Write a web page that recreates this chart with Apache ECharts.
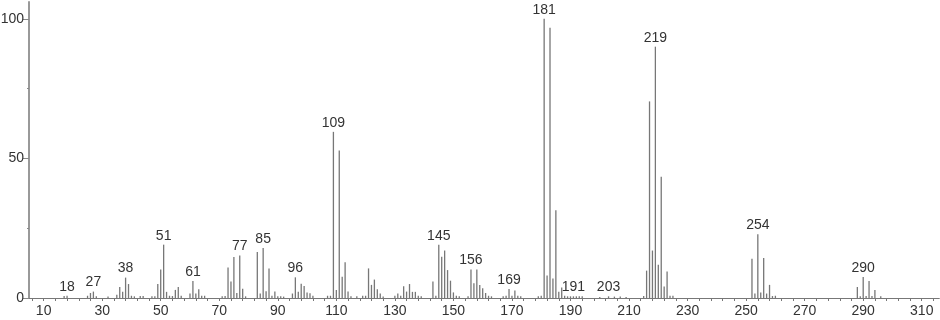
<!DOCTYPE html>
<html><head><meta charset="utf-8">
<script src="https://cdn.jsdelivr.net/npm/echarts@6/dist/echarts.min.js"></script>
<style>html,body{margin:0;padding:0;background:#fff}#c{width:940px;height:320px}</style>
</head><body><div id="c"></div>
<script>
// m/z values (x) and relative intensity (%)
const mz = [17,18,25,26,27,28,32,35,36,37,38,39,40,41,43,44,47,48,49,50,51,52,53,54,55,56,57,60,61,62,63,64,65,
  71,72,73,74,75,76,77,78,79,83,84,85,86,87,88,89,90,91,92,95,96,97,98,99,100,101,102,
  107,108,109,110,111,112,113,114,115,117,119,120,121,122,123,124,125,126,130,131,132,133,134,135,136,137,138,139,
  143,144,145,146,147,148,149,150,151,152,155,156,157,158,159,160,161,162,163,167,168,169,170,171,172,173,
  179,180,181,182,183,184,185,186,187,188,189,190,191,192,193,194,200,203,205,207,209,
  215,216,217,218,219,220,221,222,223,224,225,252,253,254,255,256,257,258,259,260,288,289,290,291,292,293,294,296];
const intensity = [0.7,0.8,0.8,1.8,2.3,0.6,0.5,1.2,3.9,2.2,7.3,5.0,0.8,0.6,0.7,0.7,0.6,0.6,5.0,10.2,19.1,2.2,0.8,0.7,2.9,3.9,0.8,1.6,6.1,1.6,3.1,0.8,0.8,
  0.6,0.7,10.9,5.9,14.7,1.8,15.2,3.3,0.6,16.5,1.6,17.9,2.4,10.6,0.8,2.3,0.6,0.6,0.5,1.6,7.4,2.2,5.1,4.3,2.0,1.7,0.8,
  0.8,0.8,59.5,2.9,52.8,7.6,12.8,2.3,0.6,0.6,0.8,0.8,10.6,4.7,6.6,3.1,1.6,0.5,0.8,1.6,0.8,4.2,2.3,5.0,2.2,2.2,0.8,0.6,
  5.9,0.8,19.1,14.8,17.0,10.0,6.2,2.0,0.8,0.6,0.6,10.2,5.3,10.2,4.7,3.5,1.8,0.8,0.6,0.6,0.8,3.2,0.8,2.7,0.8,0.6,
  0.6,0.8,100,8.1,96.8,7.0,31.4,2.2,3.8,0.8,0.6,0.6,0.6,0.6,0.6,0.6,0.4,0.6,0.5,0.5,0.4,
  0.7,9.8,70.4,17.0,90.0,11.9,43.4,4.1,9.5,0.8,0.8,14.1,1.6,22.8,2.0,14.3,1.6,4.7,0.7,0.8,3.9,0.6,7.5,0.7,6.1,0.7,2.9,0.6];
const labeledPeaks = [18,27,38,51,61,77,85,96,109,145,156,169,181,191,203,219,254,290];
const xLabelValues = [10,30,50,70,90,110,130,150,170,190,210,230,250,270,290,310];
const yLabelValues = [0,50,100];
const yMinorTickValues = [25,75];
const xTickValues = [];
for (let v = 6; v <= 314; v += 4) xTickValues.push(v);

const font = "'Liberation Sans',Arial,sans-serif";
const chart = echarts.init(document.getElementById('c'), null, {renderer:'canvas'});
chart.setOption({
  animation: false,
  grid: {left: 29, right: 0.7, top: 2, bottom: 22, containLabel: false, outerBoundsMode: 'none'},
  xAxis: [{
    type: 'value', min: 5, max: 316,
    axisLine: {show: true, lineStyle: {color: '#777', width: 1}},
    axisTick: {show: true, length: 3, customValues: xTickValues, lineStyle: {color: '#777'}},
    axisLabel: {customValues: xLabelValues, margin: 6, fontSize: 14, color: '#333', fontFamily: font},
    splitLine: {show: false}
  }],
  yAxis: [{
    type: 'value', min: 0, max: 106, position: 'left',
    axisLine: {show: true, lineStyle: {color: '#999', width: 2}},
    axisTick: {show: true, length: 6, customValues: yLabelValues, lineStyle: {color: '#888'}},
    axisLabel: {customValues: yLabelValues, margin: 5, fontSize: 14, color: '#333', fontFamily: font},
    splitLine: {show: false}
  }, {
    type: 'value', min: 0, max: 106, position: 'left', offset: 0,
    axisLine: {show: false},
    axisTick: {show: true, length: 2, customValues: yMinorTickValues, lineStyle: {color: '#888'}},
    axisLabel: {show: false},
    splitLine: {show: false}
  }],
  series: [{
    type: 'bar',
    barWidth: 1.3,
    itemStyle: {color: '#777777'},
    label: {show: false, position: 'top', distance: 2, fontSize: 14, color: '#333', fontFamily: font,
      formatter: p => String(p.value[0])},
    data: mz.map((m, i) => ({value: [m, intensity[i]], label: {show: labeledPeaks.includes(m)}}))
  }]
});
</script></body></html>
